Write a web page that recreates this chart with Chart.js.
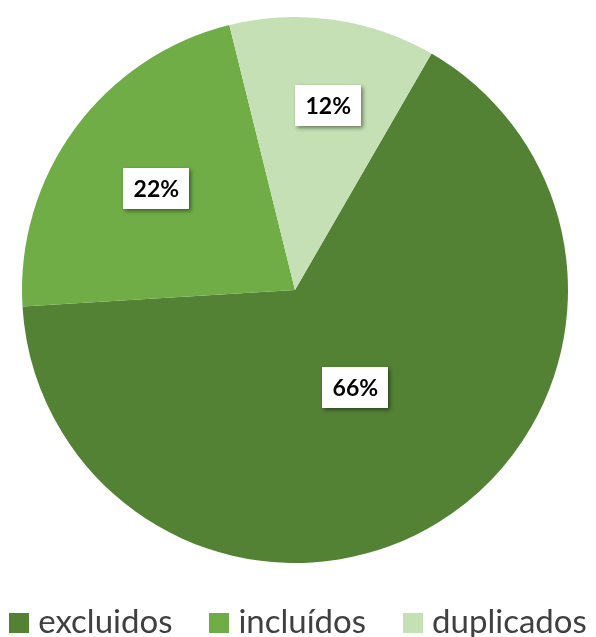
<!DOCTYPE html>
<html><head><meta charset="utf-8">
<script src="https://cdn.jsdelivr.net/npm/chart.js@4.4.0/dist/chart.umd.min.js"></script>
<style>html,body{margin:0;padding:0;background:#fff}</style>
</head><body>
<canvas id="c" width="596" height="637" style="display:block;width:596px;height:637px"></canvas>
<script>
const categories = ['excluidos', 'incluídos', 'duplicados'];
const percentages = [65.7, 22.1, 12.2];
const labelTexts = ['66%', '22%', '12%'];
const sliceColors = ['#548235', '#70AD47', '#C5E0B4'];

const boxLabels = {
  id: 'boxLabels',
  afterDatasetsDraw(chart, args, opts) {
    const meta = chart.getDatasetMeta(0);
    const ctx = chart.ctx;
    ctx.save();
    meta.data.forEach((arc, i) => {
      const p = arc.getProps(['x', 'y', 'startAngle', 'endAngle', 'outerRadius'], true);
      const mid = (p.startAngle + p.endAngle) / 2 + opts.angleShift[i] * Math.PI / 180;
      const r = p.outerRadius * opts.radial[i];
      const cx = p.x + Math.cos(mid) * r;
      const cy = p.y + Math.sin(mid) * r;
      const w = opts.boxW, h = opts.boxH;
      ctx.shadowColor = 'rgba(0,0,0,0.45)';
      ctx.shadowBlur = 4;
      ctx.shadowOffsetX = 2;
      ctx.shadowOffsetY = 2;
      ctx.fillStyle = '#ffffff';
      ctx.fillRect(Math.round(cx - w / 2), Math.round(cy - h / 2), w, h);
      ctx.shadowColor = 'transparent';
      ctx.fillStyle = '#000000';
      ctx.font = opts.font;
      ctx.textAlign = 'center';
      ctx.textBaseline = 'middle';
      ctx.fillText(labelTexts[i], cx, cy + 1);
    });
    ctx.restore();
  }
};

const bottomLegend = {
  id: 'bottomLegend',
  afterDraw(chart, args, opts) {
    const ctx = chart.ctx;
    const colors = chart.data.datasets[0].backgroundColor;
    ctx.save();
    ctx.font = opts.font;
    const widths = chart.data.labels.map(t => ctx.measureText(t).width);
    const n = chart.data.labels.length;
    const total = widths.reduce((a, b) => a + b, 0) + n * (opts.box + opts.gap) + (n - 1) * opts.spacing;
    let x = (chart.width - total) / 2 + opts.shift;
    chart.data.labels.forEach((t, i) => {
      ctx.fillStyle = colors[i];
      ctx.fillRect(Math.round(x), opts.baseline - opts.box, opts.box, opts.box);
      x += opts.box + opts.gap;
      ctx.fillStyle = opts.color;
      ctx.textAlign = 'left';
      ctx.textBaseline = 'alphabetic';
      ctx.fillText(t, x, opts.baseline);
      x += widths[i] + opts.spacing;
    });
    ctx.restore();
  }
};

new Chart(document.getElementById('c'), {
  type: 'pie',
  data: {
    labels: categories,
    datasets: [{
      data: percentages,
      backgroundColor: sliceColors,
      borderWidth: 0
    }]
  },
  options: {
    responsive: false,
    animation: false,
    rotation: 30,
    layout: { padding: { left: 22, right: 28, top: 17, bottom: 74 } },
    plugins: {
      legend: { display: false },
      tooltip: { enabled: false },
      boxLabels: { radial: [0.42, 0.63, 0.685], angleShift: [0, 0, 2.2], boxW: 66, boxH: 41, font: 'bold 23px Lato' },
      bottomLegend: { font: '33px Lato', color: '#404040', box: 20, gap: 9, spacing: 37, baseline: 633, shift: 0 }
    }
  },
  plugins: [boxLabels, bottomLegend]
});
</script>
</body></html>
